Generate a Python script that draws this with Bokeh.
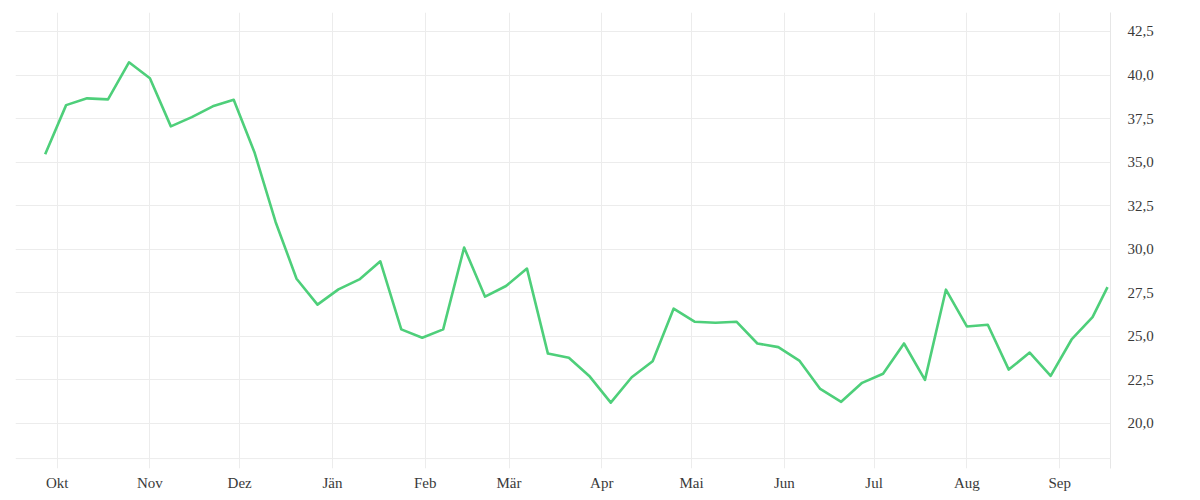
import pandas as pd
from bokeh.plotting import figure
from bokeh.models import Range1d, FixedTicker, CustomJSTickFormatter, Span
from bokeh.embed import file_html
from bokeh.resources import INLINE

# ---- data ----
dates = list(pd.date_range("2020-09-27", periods=51, freq="7D")) + [pd.Timestamp("2021-09-17")]
values = [35.45, 38.27, 38.66, 38.60, 40.73, 39.81, 37.05, 37.58, 38.20, 38.58,
          35.53, 31.56, 28.30, 26.81, 27.69, 28.26, 29.30, 25.39, 24.91, 25.39,
          30.09, 27.27, 27.88, 28.88, 24.00, 23.76, 22.68, 21.18, 22.64, 23.56,
          26.58, 25.83, 25.77, 25.83, 24.58, 24.37, 23.60, 21.97, 21.23, 22.32,
          22.84, 24.58, 22.49, 27.67, 25.56, 25.66, 23.08, 24.06, 22.72, 24.81,
          26.09, 27.82]
month_ticks = ["2020-10-01", "2020-11-01", "2020-12-01", "2021-01-01", "2021-02-01",
               "2021-03-01", "2021-04-01", "2021-05-01", "2021-06-01", "2021-07-01",
               "2021-08-01", "2021-09-01"]
month_names = ["Jän", "Feb", "Mär", "Apr", "Mai", "Jun", "Jul", "Aug", "Sep", "Okt", "Nov", "Dez"]
y_ticks = [20.0, 22.5, 25.0, 27.5, 30.0, 32.5, 35.0, 37.5, 40.0, 42.5]

GRID = "#ececec"
TEXT = "#3a3a3a"
FONT = "Liberation Serif"

def ms(d):
    return pd.Timestamp(d).value / 1e6

p = figure(width=1192, height=499, output_backend="svg", toolbar_location=None,
           x_axis_type="datetime", y_axis_location="right",
           x_range=Range1d(ms("2020-09-17 02:00"), ms("2021-09-18")),
           y_range=Range1d(17.40, 43.59),
           min_border_left=15, min_border_top=12, min_border_right=82, min_border_bottom=31)
p.outline_line_color = None
p.background_fill_color = "white"

p.line(dates, values, line_color="#4ecf7a", line_width=2.6, line_join="round")

xt = FixedTicker(ticks=[ms(d) for d in month_ticks])
p.xaxis.ticker = xt
p.xgrid.ticker = xt
p.xaxis.formatter = CustomJSTickFormatter(args=dict(names=month_names),
                                          code="return names[new Date(tick).getUTCMonth()];")
p.xaxis.axis_line_color = None
p.xaxis.major_tick_line_color = None
p.xaxis.minor_tick_line_color = None
p.xaxis.major_tick_out = 0
p.xaxis.major_tick_in = 0
p.xaxis.major_label_standoff = 6
p.xaxis.major_label_text_font = FONT
p.xaxis.major_label_text_font_size = "15px"
p.xaxis.major_label_text_color = TEXT

yt = FixedTicker(ticks=y_ticks)
p.yaxis.ticker = yt
p.ygrid.ticker = yt
p.yaxis.formatter = CustomJSTickFormatter(code="return tick.toFixed(1).replace('.', ',');")
p.yaxis.axis_line_color = "#e6e6e6"
p.yaxis.major_tick_line_color = None
p.yaxis.minor_tick_line_color = None
p.yaxis.major_tick_out = 0
p.yaxis.major_tick_in = 0
p.yaxis.major_label_standoff = 17
p.yaxis.major_label_text_font = FONT
p.yaxis.major_label_text_font_size = "15px"
p.yaxis.major_label_text_color = TEXT

p.xgrid.grid_line_color = GRID
p.ygrid.grid_line_color = GRID
p.add_layout(Span(location=17.97, dimension="width", line_color=GRID, line_width=1))

open("out.html", "w").write(file_html(p, INLINE))
